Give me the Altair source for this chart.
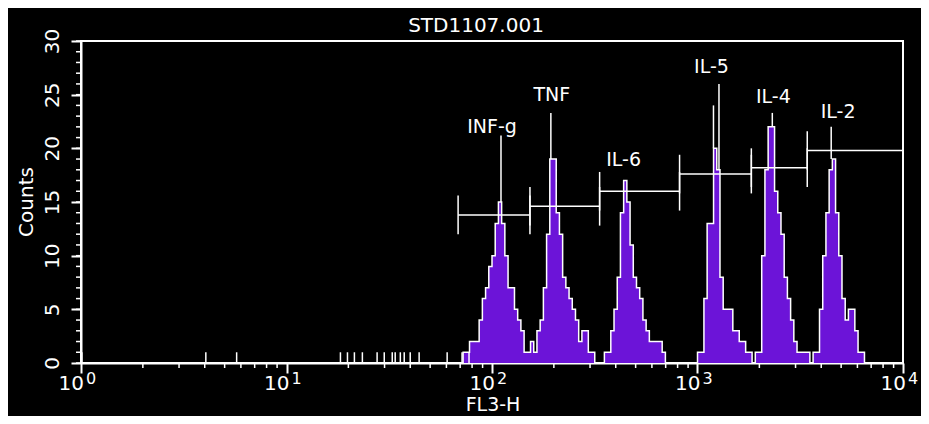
import altair as alt
import pandas as pd

# ---------------- data ----------------
CHANNELS_PER_DECADE = 64
N_CHANNELS = 256

hist_first_channel = 119
hist_counts = [
    1, 1, 2, 2, 2, 4, 6, 7, 9, 10, 13, 15, 13, 10, 7, 7, 5, 4, 3, 1, 1,      # INF-g
    2, 1, 3, 4, 7, 12, 19, 19, 14, 12, 8, 7, 6, 5, 4, 2, 3, 3, 1, 1,         # TNF
    0, 0, 0, 1, 1, 3, 5, 8, 14, 17, 15, 11, 8, 7, 6, 4, 3, 2, 2, 2, 2, 1,    # IL-6
    0, 0, 0, 0, 0, 0, 0, 0, 0, 0,
    1, 1, 6, 13, 13, 20, 18, 8, 5, 5, 5, 3, 3, 2, 2, 1, 1,                  # IL-5
    0, 1, 1, 10, 18, 22, 22, 16, 14, 12, 8, 6, 4, 2, 1, 1, 1, 1,            # IL-4
    0, 1, 1, 5, 10, 14, 18, 19, 14, 10, 6, 4, 5, 5, 3, 1, 1, 0, 0,          # IL-2
]

# isolated single events along the baseline (FL3-H value, count)
event_x = [1.01, 4.05, 5.72, 18.3, 19.8, 21.4, 23.4, 27.6, 29.9, 32.7,
           33.8, 35.8, 37.4, 40.0, 44.2, 60.5, 71.5, 77.3]
event_count = [1, 1, 1, 1, 1, 1, 1, 1, 1, 1, 1, 1, 1, 1, 1, 1, 1, 1]

# narrow single-channel spikes on top of the peaks
spike_x = [110.6, 193.4, 1196, 1272, 2312, 4473]
spike_base = [15, 19, 20, 18, 22, 19]
spike_top = [21.2, 23.3, 24.0, 26.0, 23.3, 22.0]

# marker gates
gate_names = ["INF-g", "TNF", "IL-6", "IL-5", "IL-4", "IL-2"]
gate_lo = [68.4, 153, 334, 818, 1828, 3420]
gate_hi = [153, 334, 818, 1828, 3420, 10000]
gate_level = [13.8, 14.6, 16.0, 17.6, 18.2, 19.8]
gate_tick_half = 1.8

# peak labels
label_x = [100, 195.6, 437, 1169, 2339, 4835]
label_y = [22.0, 25.0, 18.9, 27.6, 24.8, 23.4]

decades = [1, 10, 100, 1000, 10000]
decade_exponents = ["0", "1", "2", "3", "4"]
y_major = [0, 5, 10, 15, 20, 25, 30]
y_minor = list(range(0, 31))
x_minor = [k * d for d in [1, 10, 100, 1000] for k in range(2, 10)]

title_text = "STD1107.001"
x_title = "FL3-H"
y_title = "Counts"

# ---------------- styling ----------------
PURPLE = "#6c14d8"
WHITE = "#ffffff"
FONT = "DejaVu Sans"
W, H = 822, 322
PAD_L, PAD_T = 73, 33

# ---------------- tables ----------------
counts = [0] * N_CHANNELS
for i, c in enumerate(hist_counts):
    counts[hist_first_channel + i] = c
hist = pd.DataFrame({
    "x": [10 ** (c / CHANNELS_PER_DECADE) for c in range(N_CHANNELS + 1)],
    "y": counts + [counts[-1]],
})
events = pd.DataFrame({"x": event_x, "y": [0] * len(event_x), "y2": event_count})
spikes = pd.DataFrame({"x": spike_x, "y": spike_base, "y2": spike_top})
gates = pd.DataFrame({"x": gate_lo, "x2": gate_hi, "y": gate_level})
gate_ticks = pd.DataFrame({
    "x": gate_lo + gate_hi,
    "y": [l - gate_tick_half for l in gate_level] * 2,
    "y2": [l + gate_tick_half for l in gate_level] * 2,
})
labels = pd.DataFrame({"x": label_x, "y": label_y, "t": gate_names})
dec = pd.DataFrame({"x": decades, "e": decade_exponents, "b": ["10"] * 5})
xminor = pd.DataFrame({"x": x_minor})
yminor = pd.DataFrame({"y": y_minor})

xscale = alt.Scale(type="log", domain=[1, 10000], nice=False)
yscale = alt.Scale(domain=[0, 30], nice=False)

X = alt.X("x:Q", scale=xscale, title=None,
          axis=alt.Axis(values=decades, labels=False, tickSize=10, tickWidth=2,
                        tickColor=WHITE, domainColor=WHITE, domainWidth=2,
                        grid=False, title=None))
Y = alt.Y("y:Q", scale=yscale, title=None,
          axis=alt.Axis(values=y_major, tickSize=10, tickWidth=2, tickColor=WHITE,
                        domainColor=WHITE, domainWidth=2, grid=False, title=None,
                        labelAngle=270, labelAlign="center", labelBaseline="middle",
                        labelPadding=19, labelFontSize=20, labelFont=FONT,
                        labelColor=WHITE))

area = alt.Chart(hist).mark_area(interpolate="step-after", color=PURPLE).encode(x=X, y=Y)
outline = alt.Chart(hist).mark_line(interpolate="step-after", color=WHITE,
                                    strokeWidth=1.5).encode(x=X, y=Y)
ev = alt.Chart(events).mark_rule(color=WHITE, strokeWidth=1.5).encode(x=X, y=Y, y2="y2:Q")
sp = alt.Chart(spikes).mark_rule(color=WHITE, strokeWidth=1.5).encode(x=X, y=Y, y2="y2:Q")
gate_h = alt.Chart(gates).mark_rule(color=WHITE, strokeWidth=1.5).encode(x=X, x2="x2:Q", y=Y)
gate_v = alt.Chart(gate_ticks).mark_rule(color=WHITE, strokeWidth=1.5).encode(x=X, y=Y, y2="y2:Q")
lab = alt.Chart(labels).mark_text(color=WHITE, font=FONT, fontSize=19,
                                  baseline="middle").encode(x=X, y=Y, text="t:N")

xm = alt.Chart(xminor).mark_rule(color=WHITE, strokeWidth=1.5).encode(
    x=X, y=alt.value(H), y2=alt.value(H + 5))
ym = alt.Chart(yminor).mark_rule(color=WHITE, strokeWidth=1.5).encode(
    y=Y, x=alt.value(-5), x2=alt.value(0))

dec_base = alt.Chart(dec).mark_text(color=WHITE, font=FONT, fontSize=20, align="right",
                                    dx=3, baseline="alphabetic").encode(
    x=X, y=alt.value(H + 27), text="b:N")
dec_exp = alt.Chart(dec).mark_text(color=WHITE, font=FONT, fontSize=16, align="left",
                                   dx=5, baseline="alphabetic").encode(
    x=X, y=alt.value(H + 21), text="e:N")

t_title = alt.Chart(pd.DataFrame({"t": [title_text]})).mark_text(
    color=WHITE, font=FONT, fontSize=20, baseline="alphabetic").encode(
    text="t:N", x=alt.value(395), y=alt.value(-9))
t_x = alt.Chart(pd.DataFrame({"t": [x_title]})).mark_text(
    color=WHITE, font=FONT, fontSize=19, baseline="alphabetic").encode(
    text="t:N", x=alt.value(412), y=alt.value(H + 48))
t_y = alt.Chart(pd.DataFrame({"t": [y_title]})).mark_text(
    color=WHITE, font=FONT, fontSize=20, angle=270, baseline="middle").encode(
    text="t:N", x=alt.value(-54), y=alt.value(H / 2))

chart = alt.layer(
    area, outline, ev, sp, gate_h, gate_v, lab, xm, ym, dec_base, dec_exp,
    t_title, t_x, t_y
).properties(
    width=W, height=H, background="black",
    padding={"left": PAD_L, "top": PAD_T, "right": 913 - PAD_L - W, "bottom": 408 - PAD_T - H},
    autosize=alt.AutoSizeParams(type="none"),
).configure_view(stroke=WHITE, strokeWidth=2)

chart.save("out.html", embed_options={"renderer": "svg", "actions": False})
